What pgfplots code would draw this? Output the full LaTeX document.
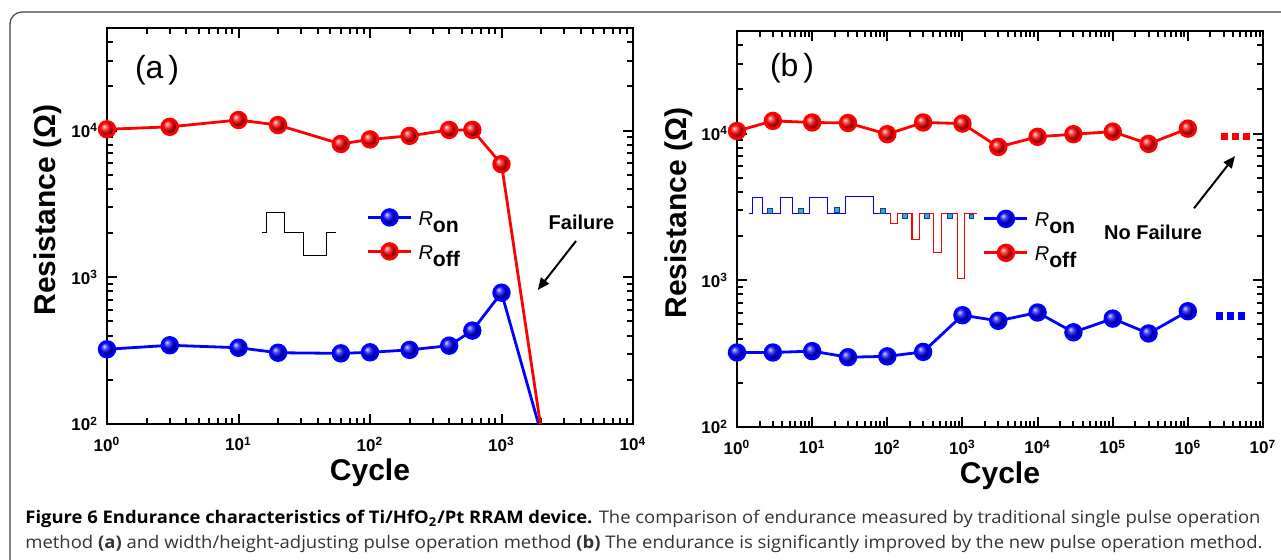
\documentclass[border=0pt]{standalone}
\usepackage{pgfplots}
\pgfplotsset{compat=1.18}
\usepackage{graphicx}
\usepackage{fontspec}
\setmainfont{Liberation Sans}
\newfontfamily\capfont{Open Sans}
\usetikzlibrary{arrows.meta}

\definecolor{sqfill}{HTML}{35A5E6}
\definecolor{sqedge}{HTML}{1B3E7A}
\definecolor{capgray}{HTML}{333333}

\newcommand\legR[1]{{\fontsize{10}{12}\selectfont\textit{R}}\raisebox{-3.5pt}{\fontsize{10.6}{12}\selectfont\bfseries #1}}
\newcommand\dec[1]{\textbf{10}\textsuperscript{\textbf{#1}}}

\tikzset{
  ron/.style={blue, line width=1.4pt, mark=ball, mark size=3.9pt, mark options={ball color=blue}},
  roff/.style={red, line width=1.4pt, mark=ball, mark size=3.9pt, mark options={ball color=red}},
}
\pgfplotsset{
  legend image code/.code={\draw[mark repeat=2,mark phase=2,#1] plot coordinates {(0pt,3.5pt) (10.75pt,3.5pt) (21.5pt,3.5pt)};},
  every axis/.append style={
    scale only axis, width=263pt, height=198pt,
    axis line style={line width=1.2pt},
    every tick/.style={black, line width=1pt},
    every minor tick/.style={black, line width=1pt},
    major tick length=5pt, minor tick length=3pt,
    tick align=inside, xticklabel pos=left, yticklabel pos=left,
    ytick={100,1000,10000}, yticklabels={\dec{2},\dec{3},\dec{4}},
    minor ytick={200,300,400,500,600,700,800,900,2000,3000,4000,5000,6000,7000,8000,9000,2e4,3e4,4e4},
    ticklabel style={font=\fontsize{8.5}{10}\selectfont},
    xticklabel style={yshift=-3pt},
    yticklabel style={xshift=-1pt},
    xlabel style={font=\fontsize{15}{18}\selectfont\bfseries, at={(axis description cs:0.5,-0.1427)}, anchor=base},
    ylabel style={font=\fontsize{15}{18}\selectfont\bfseries, anchor=center},
    legend style={draw=none, fill=none, inner sep=0pt, row sep=0pt, column sep=3pt,
      nodes={inner sep=0pt, text height=9pt, text depth=8pt}},
    legend cell align=left,
  },
}

\begin{document}
\begin{tikzpicture}

% (a) single pulse operation
\begin{axis}[xmode=log, ymode=log, at={(53.5pt,-212pt)}, anchor=south west,
  xmin=1, xmax=1e4, ymin=100, ymax=5e4,
  xtick={1,10,100,1000,10000}, xticklabels={\dec{0},\dec{1},\dec{2},\dec{3},\dec{4}},
  minor xtick={2,3,4,5,6,7,8,9,20,30,40,50,60,70,80,90,200,300,400,500,600,700,800,900,
    2000,3000,4000,5000,6000,7000,8000,9000},
  xlabel={Cycle}, ylabel={Resistance (Ω)},
  ylabel style={at={(axis description cs:-0.112,0.54)}},
  legend style={at={(axis description cs:0.493,0.461)}, anchor=west}]
\addplot[ron] coordinates {
  (1,323) (3,344) (10,331) (20,306) (60,303) (100,308) (200,320) (400,342) (600,433) (1000,785) (2050,80)
};
\addlegendentry{\legR{on}}
\addplot[roff] coordinates {
  (1,10200) (3,10600) (10,11800) (20,10900) (60,8100) (100,8700) (200,9200) (400,10100) (600,10100) (1000,5900) (2050,80)
};
\addlegendentry{\legR{off}}
\end{axis}

% (b) width/height-adjusting pulse operation
\begin{axis}[xmode=log, ymode=log, at={(368.5pt,-213.5pt)}, anchor=south west,
  xmin=1, xmax=1e7, ymin=100, ymax=5e4,
  xtick={1,10,100,1000,1e4,1e5,1e6,1e7},
  xticklabels={\dec{0},\dec{1},\dec{2},\dec{3},\dec{4},\dec{5},\dec{6},\dec{7}},
  minor xtick={2,3,4,5,6,7,8,9,20,30,40,50,60,70,80,90,200,300,400,500,600,700,800,900,
    2000,3000,4000,5000,6000,7000,8000,9000,2e4,3e4,4e4,5e4,6e4,7e4,8e4,9e4,
    2e5,3e5,4e5,5e5,6e5,7e5,8e5,9e5,2e6,3e6,4e6,5e6,6e6,7e6,8e6,9e6},
  xlabel={Cycle}, ylabel={Resistance (Ω)},
  ylabel style={at={(axis description cs:-0.110,0.54)}},
  legend style={at={(axis description cs:0.467,0.465)}, anchor=west}]
\addplot[ron] coordinates {
  (1,322) (3,322) (10,329) (30,299) (100,303) (300,325) (1000,578) (3000,529)
  (1e4,603) (3e4,442) (1e5,548) (3e5,434) (1e6,615)
};
\addlegendentry{\legR{on}}
\addplot[roff] coordinates {
  (1,10400) (3,12200) (10,11900) (30,11800) (100,9900) (300,11900) (1000,11700) (3000,8100)
  (1e4,9500) (3e4,9900) (1e5,10300) (3e5,8500) (1e6,10800)
};
\addlegendentry{\legR{off}}
\addplot[only marks, mark=square*, mark size=1.6pt, red, forget plot] coordinates {
  (3.05e6,9600) (4.28e6,9600) (6.0e6,9600)
};
\addplot[only marks, mark=square*, mark size=1.6pt, blue, forget plot] coordinates {
  (2.62e6,571) (3.67e6,571) (5.14e6,571)
};
\end{axis}

% annotations, in image pixels
\begin{scope}[x=0.5pt, y=-0.5pt]
  \draw[rounded corners=6pt, line width=0.6pt, black!75] (10,12) rectangle (1300,590);

  \node[font=\fontsize{16}{18}\selectfont] at (157,70) {(a\hspace{0.15em})};
  \node[font=\fontsize{16}{18}\selectfont] at (792,68) {(b\hspace{0.15em})};

  % pulse sketch (a)
  \draw[line width=0.5pt] (261.5,232.5) -- (266,232.5) -- (266,212.5) -- (284.3,212.5) -- (284.3,232.5)
    -- (303,232.5) -- (303,255.7) -- (326.3,255.7) -- (326.3,232.5) -- (336,232.5);

  % pulse sketch (b)
  \draw[blue, line width=0.6pt] (749.3,213.3) -- (752.3,213.3) -- (752.3,197.3) -- (762.3,197.3) -- (762.3,213.3)
    -- (780.3,213.3) -- (780.3,197.3) -- (792.7,197.3) -- (792.7,213.3) -- (809.3,213.3) -- (809.3,197.3)
    -- (827.3,197.3) -- (827.3,213.3) -- (845.3,213.3) -- (845.3,196.7) -- (873.3,196.7) -- (873.3,213.3)
    -- (890.7,213.3);
  \draw[red, line width=0.6pt] (890.7,213.3) -- (890.7,223.3) -- (897.3,223.3) -- (897.3,213.3) -- (912,213.3)
    -- (912,239.3) -- (919.3,239.3) -- (919.3,213.3) -- (933.3,213.3) -- (933.3,252.7) -- (941.3,252.7)
    -- (941.3,213.3) -- (957.3,213.3) -- (957.3,278.3) -- (964.7,278.3) -- (964.7,213.3) -- (976.7,213.3);
  \foreach \px/\py in {770/210.7, 800.7/210.7, 836.7/210, 882.7/211, 905/216, 927/216, 950/216, 971.3/216.3}
    \filldraw[fill=sqfill, draw=sqedge, line width=0.4pt] (\px-2.3,\py-2.3) rectangle (\px+2.3,\py+2.3);

  \node[font=\fontsize{10}{12}\selectfont\bfseries] at (581.5,222) {Failure};
  \draw[line width=1pt, -{Triangle[length=6pt,width=5pt]}] (576,241) -- (537.7,290);
  \node[font=\fontsize{10}{12}\selectfont\bfseries] at (1153,232.5) {No Failure};
  \draw[line width=1pt, -{Triangle[length=6pt,width=5pt]}] (1194,208.3) -- (1235,156);

  % caption
  \node[anchor=base west, inner sep=0pt] at (25,523.5) {\resizebox{617.5pt}{\height}{\capfont\fontsize{8.7}{10}\selectfont
    \textbf{Figure 6 Endurance characteristics of Ti/HfO\textsubscript{2}/Pt RRAM device.} \textcolor{capgray}{The comparison of endurance measured by traditional single pulse operation}}};
  \node[anchor=base west, inner sep=0pt] at (25,548.5) {\resizebox{618.5pt}{\height}{\capfont\fontsize{8.7}{10}\selectfont
    \textcolor{capgray}{method \textbf{(a)} and width/height-adjusting pulse operation method \textbf{(b)} The endurance is significantly improved by the new pulse operation method.}}};
\end{scope}

\pgfresetboundingbox
\useasboundingbox (0,0) rectangle (640.5pt,-280pt);
\end{tikzpicture}
\end{document}
